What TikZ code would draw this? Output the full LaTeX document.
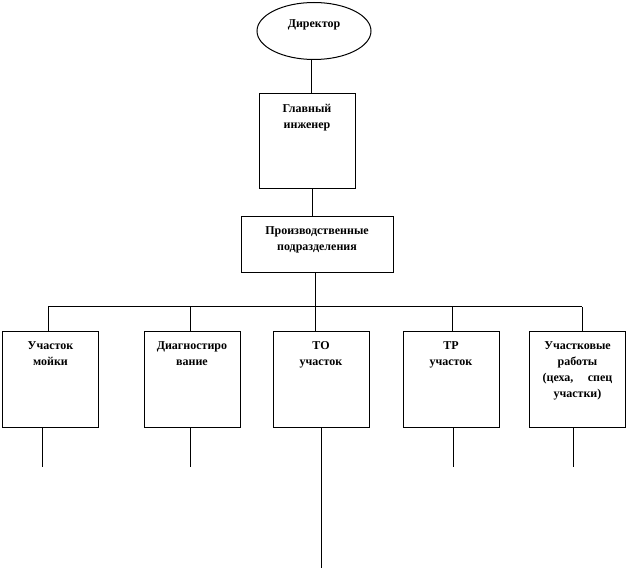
\documentclass[tikz,border=0pt]{standalone}
\usepackage{fontspec}
\setmainfont{Liberation Serif}
\usetikzlibrary{shapes.geometric}
\begin{document}
\begin{tikzpicture}[x=0.75pt,y=-0.75pt,line width=0.75pt,
  box/.style={draw,rectangle,inner sep=0pt,minimum width=72pt,minimum height=72pt},
  txt/.style={font=\bfseries\fontsize{9}{12}\selectfont,align=center,anchor=north,inner sep=0pt}]
\useasboundingbox (0,0) rectangle (629,570);
% top
\node[draw,ellipse,inner sep=0pt,minimum width=85.5pt,minimum height=42.75pt] (dir) at (314,31) {};
\node[font=\bfseries\fontsize{9}{12}\selectfont,inner sep=0pt] (dirt) at (314,25) {Директор};
\node[box,minimum width=72pt,minimum height=71.25pt] (gi) at (307,141.5) {};
\node[txt] (git) at ([yshift=-7.5pt]gi.north) {Главный\\инженер};
\node[box,minimum width=114pt,minimum height=42pt] (pp) at (317,245) {};
\node[txt] (ppt) at ([yshift=-7.5pt]pp.north) {Производственные\\подразделения};
% bottom row
\node[box] (b1) at (50.5,380) {};
\node[box] (b2) at (192,380) {};
\node[box] (b3) at (321,380) {};
\node[box] (b4) at (451,380) {};
\node[box] (b5) at (577.5,380) {};
\node[txt] (b1t) at ([yshift=-7.5pt]b1.north) {Участок\\мойки};
\node[txt] (b2t) at ([yshift=-7.5pt]b2.north) {Диагностиро\\вание};
\node[txt] (b3t) at ([yshift=-7.5pt]b3.north) {ТО\\участок};
\node[txt] (b4t) at ([yshift=-7.5pt]b4.north) {ТР\\участок};
\node[txt] (b5t) at ([yshift=-7.5pt]b5.north) {Участковые\\работы\\(цеха,\hspace{1.2em}спец\\участки)};
% connectors
\coordinate (d0) at (311,60);
\draw (d0) -- (d0 |- gi.north);
\coordinate (g0) at (312,0);
\draw (g0 |- gi.south) -- (g0 |- pp.north);
\coordinate (p0) at (315,0);
\draw (p0 |- pp.south) -- (p0 |- b3.north);
\coordinate (busL) at (48,307);
\coordinate (busR) at (582,307);
\draw (busL) -- (busR);
\draw (busL) -- (busL |- b1.north);
\draw (190,307) -- (190,332);
\draw (452,307) -- (452,332);
\draw (busR) -- (busR |- b5.north);
% drops below
\coordinate (e1) at (42,467);
\coordinate (e2) at (190,467);
\coordinate (e3) at (321,568);
\coordinate (e4) at (453,467);
\coordinate (e5) at (573,467);
\draw (e1 |- b1.south) -- (e1);
\draw (e2 |- b2.south) -- (e2);
\draw (e3 |- b3.south) -- (e3);
\draw (e4 |- b4.south) -- (e4);
\draw (e5 |- b5.south) -- (e5);
\end{tikzpicture}
\end{document}
